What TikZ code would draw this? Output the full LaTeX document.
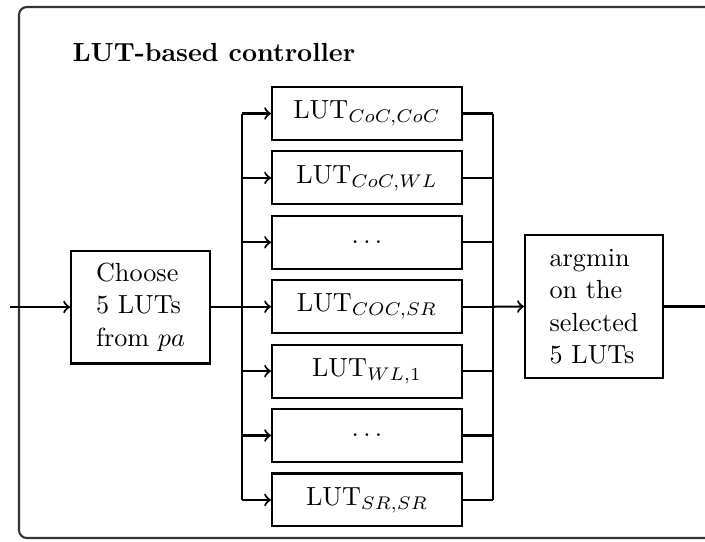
\documentclass[tikz,border=0pt]{standalone}
\begin{document}
\begin{tikzpicture}[x=0.3817pt, y=-0.3817pt,
  wire/.style={line width=0.8pt},
  arr/.style={wire, ->},
  box/.style={draw, rectangle, line width=0.8pt, inner sep=0pt},
  lut/.style={box, minimum width=72.5pt, minimum height=20.2pt},
  blockbox/.style={box, align=left, font=\fontsize{10}{12.4}\selectfont},
]
\useasboundingbox (0,0) rectangle (705,541);

% outer frame of the controller
\draw[black!80, line width=0.8pt, rounded corners=3pt] (19,7) rectangle (740,538);
\node[font=\bfseries, anchor=base west, inner sep=0pt] (title) at (72,61) {LUT-based controller};

% selection and decision blocks
\node[blockbox, minimum width=53pt, minimum height=43.1pt] (choose) at (140.5,307)
  {Choose\\5 LUTs\\from $pa$};
\node[blockbox, minimum width=52.7pt, minimum height=54.6pt] (argmin) at (594,306.5)
  {argmin\\on the\\selected\\5 LUTs};

% the look-up tables
\node[lut] (l1) at (367,113.5) {LUT$_{CoC,CoC}$};
\node[lut] (l2) at (367,177.9) {LUT$_{CoC,WL}$};
\node[lut] (l3) at (367,242.3) {$\dots$};
\node[lut] (l4) at (367,306.7) {LUT$_{COC,SR}$};
\node[lut] (l5) at (367,371.1) {LUT$_{WL,1}$};
\node[lut] (l6) at (367,435.5) {$\dots$};
\node[lut] (l7) at (367,499.9) {LUT$_{SR,SR}$};

% input and output terminals, bus columns
\coordinate (in) at (10,307);
\coordinate (out) at (705,306.5);
\coordinate (lb) at (242,0);
\coordinate (rb) at (493,0);

\draw[arr] (in) -- (choose.west);
\draw[wire] (choose.east) -- (choose.east -| lb);
\draw[wire] (l1.west -| lb) -- (l7.west -| lb);
\draw[wire] (l1.east -| rb) -- (l7.east -| rb);
\foreach \i in {1,...,7}{
  \draw[arr] (l\i.west -| lb) -- (l\i.west);
  \draw[wire] (l\i.east) -- (l\i.east -| rb);
}
\draw[arr] (l4.east -| rb) -- (argmin.west);
\draw[wire] (argmin.east) -- (out);
\end{tikzpicture}
\end{document}
